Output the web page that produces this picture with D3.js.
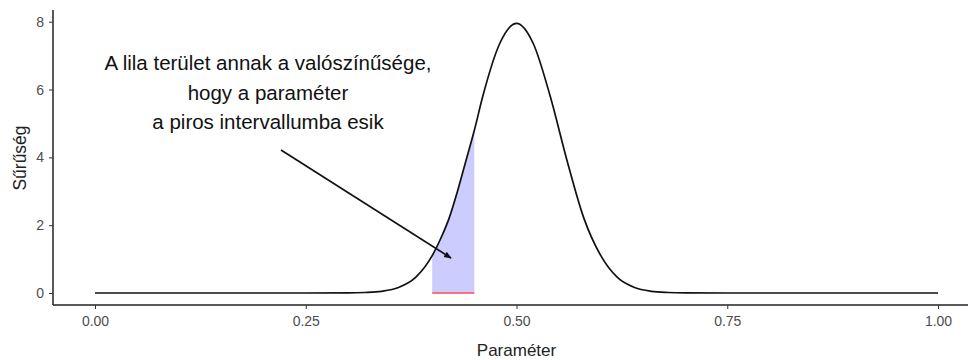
<!DOCTYPE html>
<html>
<head>
<meta charset="utf-8">
<script src="https://cdn.jsdelivr.net/npm/d3@7"></script>
<style>
  body { margin: 0; background: #fff; }
  text { font-family: "Liberation Sans", Arial, sans-serif; }
</style>
</head>
<body>
<div id="chart"></div>
<script>
// density curve, values
var paramX = [0.00, 0.05, 0.10, 0.15, 0.20, 0.25, 0.30, 0.32, 0.34, 0.36, 0.38, 0.40, 0.41, 0.42, 0.43, 0.44, 0.45,
              0.46, 0.48, 0.50, 0.52, 0.54, 0.56, 0.58, 0.60, 0.62, 0.64, 0.66, 0.68, 0.70, 0.75, 0.80, 0.85, 0.90, 0.95, 1.00];
var density = [0, 0, 0, 0, 0, 0, 0.003, 0.015, 0.05, 0.16, 0.45, 1.1, 1.6, 2.2, 3.0, 3.9, 4.8,
               5.8, 7.35, 7.95, 7.35, 5.8, 3.9, 2.2, 1.1, 0.45, 0.16, 0.05, 0.015, 0.003, 0, 0, 0, 0, 0, 0];
var interval = [0.40, 0.45];
var xTicks = [0, 0.25, 0.5, 0.75, 1];
var yTicks = [0, 2, 4, 6, 8];
var noteLines = ["A lila terület annak a valószínűsége,", "hogy a paraméter", "a piros intervallumba esik"];

var data = paramX.map(function(x, i) { return {x: x, y: density[i]}; });

var full_width = 972, full_height = 360;

var svg = d3.select("#chart").append("svg")
  .attr("width", full_width)
  .attr("height", full_height);

var xScale = d3.scaleLinear().domain([0, 1]).range([95, 938]);
var yScale = d3.scaleLinear().domain([0, 8]).range([293, 21.7]);

// shaded probability area
var shade = data.filter(function(d) { return d.x >= interval[0] - 1e-9 && d.x <= interval[1] + 1e-9; });
var area = d3.area()
  .x(d => xScale(d.x))
  .y0(yScale(0))
  .y1(d => yScale(d.y))
  .curve(d3.curveMonotoneX);
svg.append("path")
  .attr("d", area(shade))
  .style("fill", "#ccccff")
  .style("stroke", "none");

// red interval on the axis
svg.append("line")
  .attr("x1", xScale(interval[0]))
  .attr("x2", xScale(interval[1]))
  .attr("y1", yScale(0))
  .attr("y2", yScale(0))
  .style("stroke", "#ff4d4d")
  .style("stroke-width", 1.5);

// density line
var line = d3.line()
  .x(d => xScale(d.x))
  .y(d => yScale(d.y))
  .curve(d3.curveMonotoneX);
svg.append("path")
  .attr("d", line(data))
  .style("fill", "none")
  .style("stroke", "#111")
  .style("stroke-width", 1.7);

// axes
var xAxis = svg.append("g")
  .attr("transform", "translate(0,305)")
  .call(d3.axisBottom(xScale).tickValues(xTicks).tickFormat(d3.format(".2f")).tickSize(4).tickPadding(7));
xAxis.select(".domain").attr("d", "M53,0H968").style("stroke", "#222").style("stroke-width", 1.5);

var yAxis = svg.append("g")
  .attr("transform", "translate(53,0)")
  .call(d3.axisLeft(yScale).tickValues(yTicks).tickSize(4).tickPadding(5));
yAxis.select(".domain").attr("d", "M0,10V305").style("stroke", "#222").style("stroke-width", 1.5);

[xAxis, yAxis].forEach(function(ax) {
  ax.selectAll(".tick line").style("stroke", "#333");
  ax.selectAll(".tick text")
    .style("font-size", "14px")
    .style("fill", "#4d4d4d")
    .style("font-family", "Liberation Sans, Arial, sans-serif");
});

// axis titles
svg.append("text")
  .attr("x", xScale(0.5))
  .attr("y", 356)
  .style("text-anchor", "middle")
  .style("font-size", "17px")
  .style("fill", "#222")
  .text("Paraméter");

svg.append("text")
  .attr("transform", "rotate(-90)")
  .attr("x", -158)
  .attr("y", 26)
  .style("text-anchor", "middle")
  .style("font-size", "17.5px")
  .style("fill", "#222")
  .text("Sűrűség");

// annotation
svg.append("g").selectAll("text")
  .data(noteLines)
  .enter()
  .append("text")
  .attr("x", 268)
  .attr("y", (d, i) => 70 + i * 29.5)
  .style("text-anchor", "middle")
  .style("font-size", "20.5px")
  .style("fill", "#111")
  .text(d => d);

svg.append("defs").append("marker")
  .attr("id", "arrow")
  .attr("viewBox", "0 0 10 10")
  .attr("refX", 9)
  .attr("refY", 5)
  .attr("markerWidth", 4.5)
  .attr("markerHeight", 4.5)
  .attr("orient", "auto")
  .append("path")
  .attr("d", "M0,1L10,5L0,9Z")
  .style("fill", "#111");

svg.append("line")
  .attr("x1", 281)
  .attr("y1", 150)
  .attr("x2", 451)
  .attr("y2", 258)
  .style("stroke", "#111")
  .style("stroke-width", 1.7)
  .attr("marker-end", "url(#arrow)");
</script>
</body>
</html>
